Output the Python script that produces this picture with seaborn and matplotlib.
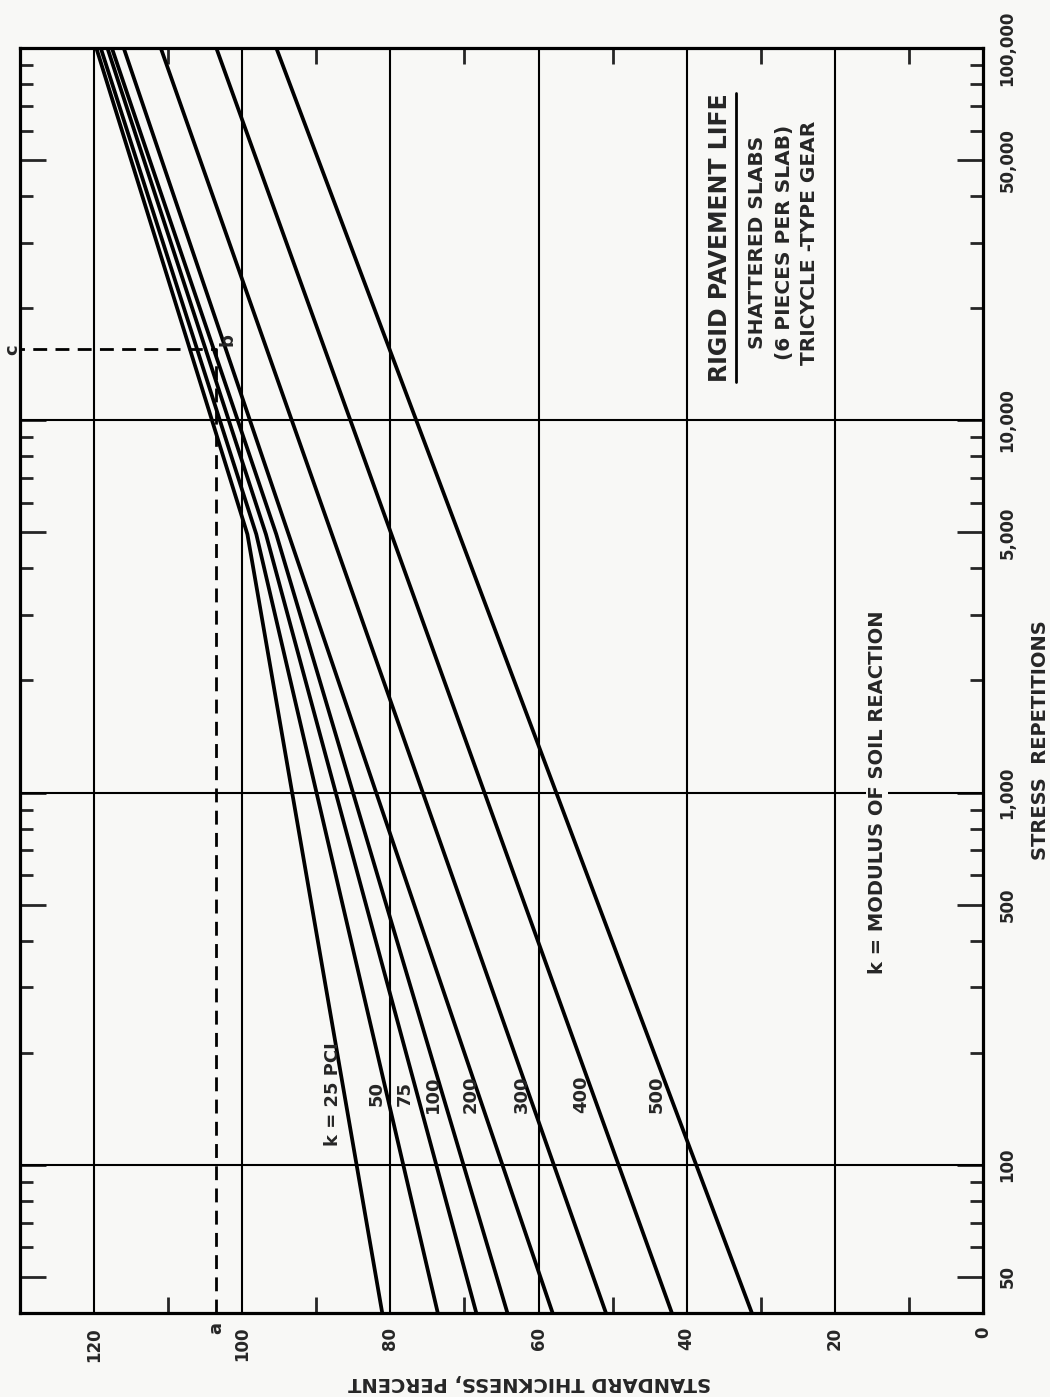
import numpy as np
import pandas as pd
import matplotlib.pyplot as plt
import seaborn as sns
from matplotlib.ticker import FixedLocator, NullFormatter, FixedFormatter

# curve data: stress repetitions vs standard thickness (percent) per k (pci)
k_values = [25, 50, 75, 100, 200, 300, 400, 500]
k_labels = ["k = 25 PCI", "50", "75", "100", "200", "300", "400", "500"]
reps_bent = [40, 4940, 100000]
reps_straight = [40, 100000]
thickness = {
    25: [81.1, 99.3, 119.7],
    50: [73.6, 98.1, 119.1],
    75: [68.4, 96.8, 118.2],
    100: [64.2, 95.4, 117.6],
    200: [58.1, 116.0],
    300: [50.9, 111.0],
    400: [42.0, 103.5],
    500: [31.2, 95.4],
}

# example reading a-b-c
example_thickness = 103.5
example_reps = 15500

# axes
thick_major = [0, 20, 40, 60, 80, 100, 120]
thick_minor = [10, 30, 50, 70, 90, 110]
reps_major = [50, 100, 500, 1000, 5000, 10000, 50000, 100000]
reps_major_labels = ["50", "100", "500", "1,000", "5,000", "10,000", "50,000", "100,000"]
reps_minor = [60, 70, 80, 90, 200, 300, 400, 600, 700, 800, 900,
              2000, 3000, 4000, 6000, 7000, 8000, 9000,
              20000, 30000, 40000, 60000, 70000, 80000, 90000]
reps_grid = [100, 1000, 10000]

rows = []
for k in k_values:
    reps = reps_bent if len(thickness[k]) == 3 else reps_straight
    for n, t in zip(reps, thickness[k]):
        rows.append({"k": k, "reps": n, "thickness": t})
df = pd.DataFrame(rows)

sns.set_style("white")
bg = "#f8f8f6"
narrow = dict(family="DejaVu Sans", fontweight="bold")

fig = plt.figure(figsize=(10.5, 13.97), dpi=100)
fig.patch.set_facecolor(bg)
ax = fig.add_axes([0.01905, 0.06013, 0.91714, 0.90551])
ax.set_facecolor(bg)
ax.set_yscale("log")

for t in thick_major[1:]:
    ax.axvline(t, color="black", lw=1.5, zorder=1)
for n in reps_grid:
    ax.axhline(n, color="black", lw=1.5, zorder=1)

sns.lineplot(data=df, x="thickness", y="reps", hue="k", units="k",
             estimator=None, sort=False, palette={k: "black" for k in k_values},
             legend=False, lw=2.7, ax=ax, zorder=3)

ax.plot([example_thickness, example_thickness, 130], [40, example_reps, example_reps],
        color="black", lw=2, ls=(0, (5, 3)), zorder=2)

ax.set_xlim(130, 0)
ax.set_ylim(40, 100000)
ax.set_xlabel("")
ax.set_ylabel("")

for s in ax.spines.values():
    s.set_linewidth(2.3)
    s.set_color("black")

ax.xaxis.set_major_locator(FixedLocator(thick_major))
ax.xaxis.set_minor_locator(FixedLocator(thick_minor))
ax.xaxis.set_minor_formatter(NullFormatter())
ax.tick_params(axis="x", which="major", length=0, pad=10, labelsize=12,
               labelrotation=90, bottom=True, top=False)
ax.tick_params(axis="x", which="minor", direction="in", length=11.5, width=2,
               bottom=True, top=True)
ax.yaxis.set_major_locator(FixedLocator(reps_major))
ax.yaxis.set_major_formatter(FixedFormatter(reps_major_labels))
ax.yaxis.set_minor_locator(FixedLocator(reps_minor))
ax.yaxis.set_minor_formatter(NullFormatter())
ax.tick_params(axis="y", which="major", direction="in", length=19, width=2,
               left=True, right=True, labelleft=False, labelright=True,
               labelrotation=90, pad=11, labelsize=12)
ax.tick_params(axis="y", which="minor", direction="in", length=9.5, width=2,
               left=True, right=True)
for lab in ax.get_xticklabels() + ax.get_yticklabels():
    lab.set_fontweight("bold")
for lab in ax.get_yticklabels():
    lab.set_va("center")

# curve labels
label_thick = [87.8, 81.9, 78.0, 74.3, 69.2, 62.3, 54.2, 44.0]
for lab, t in zip(k_labels, label_thick):
    ax.text(t, 155, lab, rotation=90, ha="center", va="center", fontsize=13, **narrow)

title = ax.text(35.5, 31000, "RIGID PAVEMENT LIFE", rotation=90, ha="center",
                va="center", fontsize=17, **narrow)
ax.text(30.4, 30000, "SHATTERED SLABS", rotation=90, ha="center", va="center",
        fontsize=14.5, **narrow)
ax.text(26.8, 30000, "(6 PIECES PER SLAB)", rotation=90, ha="center", va="center",
        fontsize=14.5, **narrow)
ax.text(23.4, 30000, "TRICYCLE -TYPE GEAR", rotation=90, ha="center", va="center",
        fontsize=14.5, **narrow)
ax.text(14.3, 1000, "k = MODULUS OF SOIL REACTION", rotation=90, ha="center",
        va="center", fontsize=14, bbox=dict(facecolor=bg, edgecolor="none", pad=1),
        **narrow)

ax.text(102, 16500, "b", rotation=90, ha="center", va="center", fontsize=13,
        fontweight="bold")
ax.text(example_thickness, -0.012, "a", rotation=90, ha="center", va="center",
        fontsize=13, fontweight="bold", transform=ax.get_xaxis_transform())
ax.text(-0.008, example_reps, "c", rotation=90, ha="center", va="center",
        fontsize=13, fontweight="bold", transform=ax.get_yaxis_transform())

fig.text(530 / 1050, 1 - 1383 / 1397, "STANDARD THICKNESS, PERCENT", rotation=180,
         ha="center", va="center", fontsize=14, fontweight="bold")
fig.text(1040 / 1050, 1 - 740 / 1397, "STRESS  REPETITIONS", rotation=90,
         ha="center", va="center", fontsize=14, fontweight="bold")

# underline for the title
fig.canvas.draw()
bb = title.get_window_extent().transformed(fig.transFigure.inverted())
fig.add_artist(plt.Line2D([bb.x1 + 0.004, bb.x1 + 0.004], [bb.y0, bb.y1],
                          color="black", lw=2, transform=fig.transFigure))

fig.savefig("out.png", dpi=100, facecolor=bg)
